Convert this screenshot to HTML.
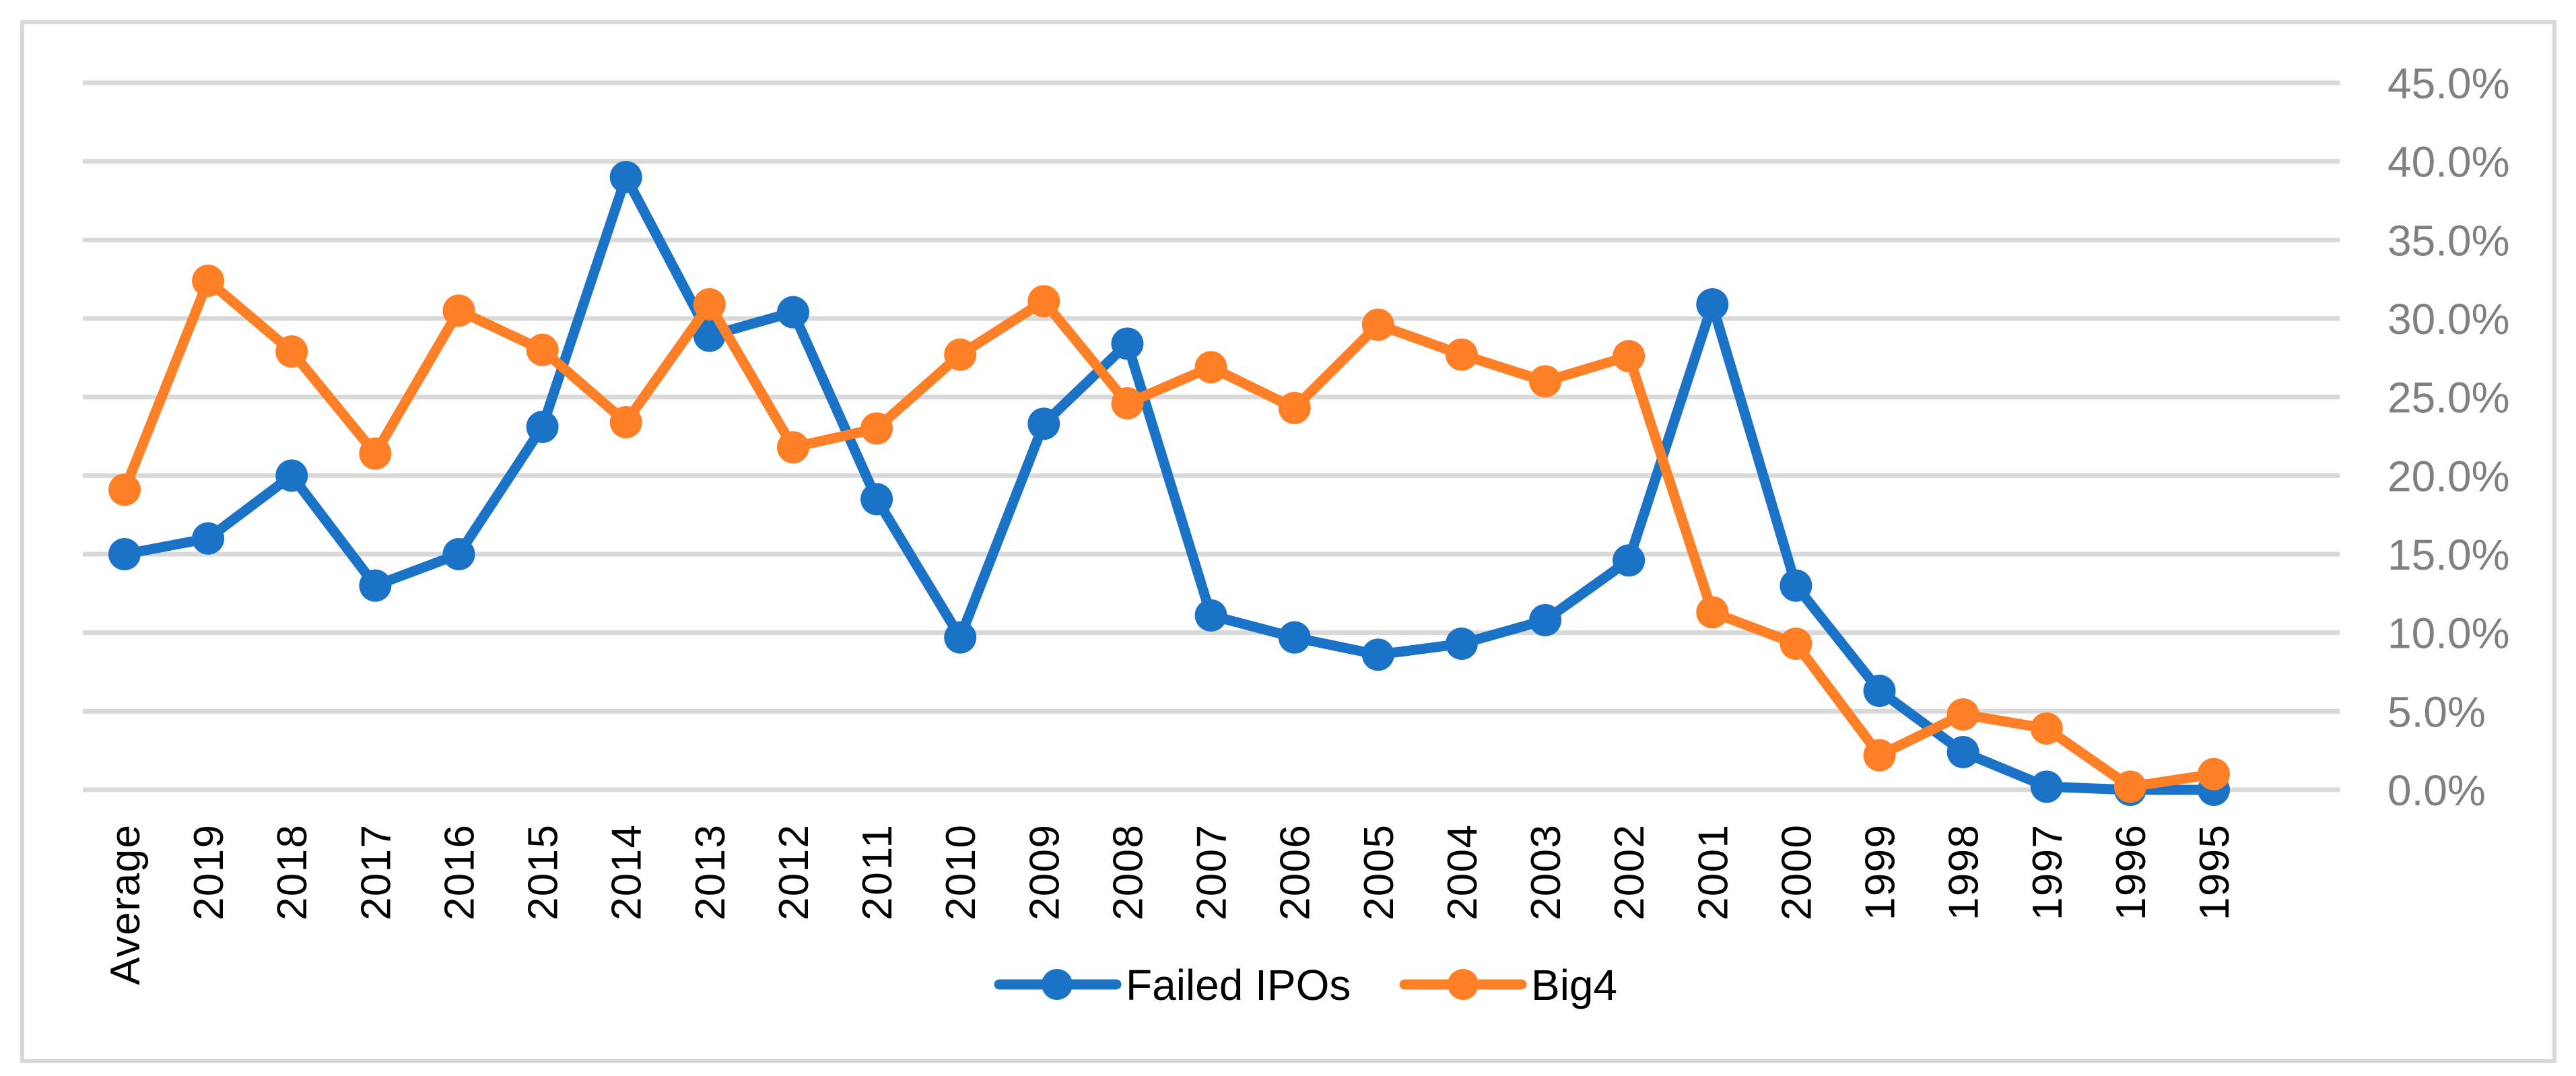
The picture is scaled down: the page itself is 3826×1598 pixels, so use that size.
<!DOCTYPE html>
<html><head><meta charset="utf-8"><style>
html,body{margin:0;padding:0;background:#fff;}
svg{display:block;}
text{font-family:"Liberation Sans",sans-serif;}
</style></head><body>
<svg id="chart" width="3826" height="1598" viewBox="0 0 3826 1598" xmlns="http://www.w3.org/2000/svg">
<rect x="33" y="33" width="3761" height="1543" fill="#fff" stroke="#d9d9d9" stroke-width="6"/>
<g id="grid"></g>
<g id="ylabels"></g>
<g id="xlabels"></g>
<g id="series"></g>
<g>
  <g>
    <line x1="1484" y1="1462" x2="1658" y2="1462" stroke="#1a73c7" stroke-width="15" stroke-linecap="round"/>
    <circle cx="1570" cy="1462" r="23" fill="#1a73c7"/>
    <text x="1672" y="1485" font-size="64" fill="#000">Failed IPOs</text>
  </g>
  <g>
    <line x1="2086" y1="1462" x2="2260" y2="1462" stroke="#ff7f27" stroke-width="15" stroke-linecap="round"/>
    <circle cx="2173" cy="1462" r="23" fill="#ff7f27"/>
    <text x="2274" y="1485" font-size="64" fill="#000">Big4</text>
  </g>
</g>
</svg>
<script>
const categories = ["Average","2019","2018","2017","2016","2015","2014","2013","2012","2011","2010","2009","2008","2007","2006","2005","2004","2003","2002","2001","2000","1999","1998","1997","1996","1995"];
const failedIPOs = [15.0,16.0,20.0,13.0,15.0,23.1,39.0,28.9,30.4,18.5,9.7,23.3,28.4,11.1,9.7,8.6,9.3,10.8,14.6,30.9,13.0,6.3,2.4,0.2,0.0,0.0];
const big4 = [19.1,32.4,27.9,21.4,30.5,28.0,23.4,30.9,21.8,23.0,27.7,31.1,24.6,26.9,24.3,29.6,27.7,26.0,27.6,11.3,9.3,2.2,4.8,3.9,0.2,1.0];
const yTicks = [0,5,10,15,20,25,30,35,40,45];
const yTickLabels = ["0.0%","5.0%","10.0%","15.0%","20.0%","25.0%","30.0%","35.0%","40.0%","45.0%"];

const NS = "http://www.w3.org/2000/svg";
const X0 = 185, X1 = 3288, Y0 = 1173, Y45 = 123;
function xPos(i){ return X0 + i * (X1 - X0) / (categories.length - 1); }
function yPos(v){ return Y0 - v * (Y0 - Y45) / 45; }

const grid = document.getElementById('grid');
const yl = document.getElementById('ylabels');
yTicks.forEach((t, i) => {
  const ln = document.createElementNS(NS, 'line');
  ln.setAttribute('x1', 123); ln.setAttribute('x2', 3475);
  ln.setAttribute('y1', yPos(t)); ln.setAttribute('y2', yPos(t));
  ln.setAttribute('stroke', '#d9d9d9'); ln.setAttribute('stroke-width', 7);
  
  
  grid.appendChild(ln);
  const tx = document.createElementNS(NS, 'text');
  tx.setAttribute('x', 3546); tx.setAttribute('y', yPos(t) + 23);
  tx.setAttribute('font-size', 64); tx.setAttribute('fill', '#808080');
  tx.textContent = yTickLabels[i];
  
  
  yl.appendChild(tx);
});

const xl = document.getElementById('xlabels');
categories.forEach((c, i) => {
  const tx = document.createElementNS(NS, 'text');
  const x = xPos(i) + 22, y = 1225;
  tx.setAttribute('x', x); tx.setAttribute('y', y);
  tx.setAttribute('transform', 'rotate(-90 ' + x + ' ' + y + ')');
  tx.setAttribute('text-anchor', 'end');
  tx.setAttribute('font-size', 62); tx.setAttribute('fill', '#000');
  tx.setAttribute('textLength', c === 'Average' ? 238 : 142);
  tx.textContent = c;
  
  
  xl.appendChild(tx);
});

const sg = document.getElementById('series');
function drawSeries(vals, color, name){
  const g = document.createElementNS(NS, 'g');
  
  
  const pl = document.createElementNS(NS, 'polyline');
  pl.setAttribute('points', vals.map((v, i) => xPos(i) + ',' + yPos(v)).join(' '));
  pl.setAttribute('fill', 'none'); pl.setAttribute('stroke', color);
  pl.setAttribute('stroke-width', 15); pl.setAttribute('stroke-linejoin', 'round');
  
  
  g.appendChild(pl);
  vals.forEach((v, i) => {
    const c = document.createElementNS(NS, 'circle');
    c.setAttribute('cx', xPos(i)); c.setAttribute('cy', yPos(v)); c.setAttribute('r', 24);
    c.setAttribute('fill', color);
    
    
    g.appendChild(c);
  });
  sg.appendChild(g);
}
drawSeries(failedIPOs, '#1a73c7', 'failed-ipos-series');
drawSeries(big4, '#ff7f27', 'big4-series');
</script>
</body></html>
